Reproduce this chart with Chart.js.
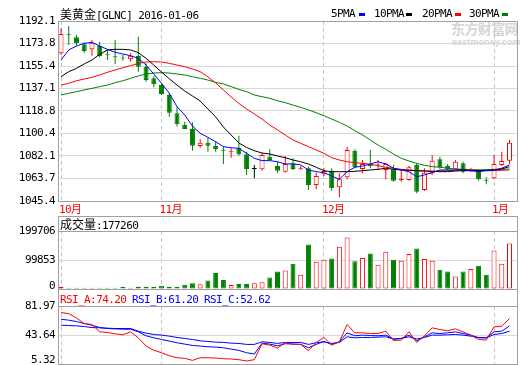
<!DOCTYPE html>
<html>
<head>
<meta charset="utf-8">
<script src="https://cdn.jsdelivr.net/npm/chart.js@4.4.0/dist/chart.umd.min.js"></script>
<style>
body { margin: 0; background: #fff; }
#wrap { position: relative; width: 520px; height: 365px; overflow: hidden; background: #fff;
  font-family: "DejaVu Sans Mono", "Noto Sans CJK SC", monospace; font-size: 11px; letter-spacing: -0.6px; }
canvas { position: absolute; left: 0; }
.frame { position: absolute; box-sizing: border-box; border: 1px solid #a0a0a0; pointer-events: none; }
.hline { position: absolute; height: 1px; background: #a0a0a0; }
.txt { position: absolute; white-space: nowrap; line-height: 12px; color: #000; }
.cjk { font-family: "Noto Sans CJK SC"; font-size: 12px; letter-spacing: 0; }
.key { position: absolute; width: 6px; height: 3px; top: 13px; }
.wm { position: absolute; color: #d6d6d6; font-weight: bold; white-space: nowrap; letter-spacing: 0; }
</style>
</head>
<body>
<div id="wrap">
  <div class="wm" style="left:451px;top:20px;font-family:'Noto Sans CJK SC';font-size:14px;line-height:16px;letter-spacing:-0.6px">东方财富网</div>
  <div class="wm" style="left:452px;top:37px;font-family:'Liberation Sans';font-size:9px;line-height:10px;letter-spacing:0.1px">eastmoney.com</div>

  <canvas id="priceChart" width="520" height="216" style="top:0"></canvas>
  <canvas id="volChart" width="520" height="80" style="top:216px"></canvas>
  <canvas id="rsiChart" width="520" height="76" style="top:289px"></canvas>

  <div class="frame" style="left:58px;top:21px;width:460px;height:181px"></div>
  <div class="frame" style="left:58px;top:216px;width:460px;height:74px"></div>
  <div class="hline" style="left:58px;top:231px;width:460px"></div>
  <div class="frame" style="left:58px;top:289px;width:460px;height:76px"></div>
  <div class="hline" style="left:58px;top:306px;width:460px"></div>

  <div class="txt" style="left:60px;top:8px"><span class="cjk">美黄金</span>[GLNC] 2016-01-06</div>
  <div class="txt" style="left:331px;top:8px">5PMA</div>
  <div class="key" style="left:359px;background:#0000ff"></div>
  <div class="txt" style="left:374px;top:8px">10PMA</div>
  <div class="key" style="left:406px;background:#000000"></div>
  <div class="txt" style="left:422px;top:8px">20PMA</div>
  <div class="key" style="left:455px;background:#ff0000"></div>
  <div class="txt" style="left:469px;top:8px">30PMA</div>
  <div class="key" style="left:502px;background:#008000"></div>

  <div class="txt" style="left:60px;top:218px"><span class="cjk">成交量</span>:177260</div>
  <div class="txt" style="left:60px;top:294px;color:#ff0000">RSI_A:74.20</div>
  <div class="txt" style="left:132px;top:294px;color:#0000ff">RSI_B:61.20</div>
  <div class="txt" style="left:204px;top:294px;color:#0000ff">RSI_C:52.62</div>
</div>

<script>
// 月份刻度 (index of first candle shown in each month)
const months = ["10月", "11月", "12月", "1月"];
const monthIdx = [0, 13, 34, 56];

// K线: 2015-10-14 .. 2016-01-06
const open = [
  1165.8, 1181.3, 1178.8, 1173.1, 1169.0, 1171.7, 1165.0, 1163.0, 1162.0, 1160.9,
  1163.6, 1154.9, 1145.4, 1139.9, 1131.8, 1116.9, 1107.3, 1104.1, 1090.2, 1092.9,
  1090.2, 1087.0, 1085.1, 1088.9, 1083.5, 1071.5, 1071.2, 1081.5, 1073.9, 1069.3,
  1076.1, 1071.7, 1072.1, 1058.4, 1067.2, 1070.1, 1056.6, 1064.7, 1086.4, 1071.5,
  1074.8, 1074.4, 1070.7, 1071.2, 1062.5, 1062.5, 1074.8, 1054.4, 1068.0, 1079.4,
  1073.9, 1071.2, 1076.1, 1070.1, 1069.9, 1062.5, 1063.9, 1074.8, 1078.2,
];
const high = [
  1186.1, 1188.0, 1180.7, 1174.7, 1176.6, 1175.2, 1168.5, 1176.6, 1164.4, 1165.8,
  1179.3, 1157.6, 1147.3, 1141.3, 1133.4, 1122.3, 1110.0, 1109.5, 1095.7, 1097.0,
  1093.8, 1089.6, 1088.3, 1098.6, 1085.6, 1074.8, 1084.3, 1087.5, 1077.4, 1082.1,
  1080.2, 1073.9, 1073.4, 1068.5, 1072.1, 1072.1, 1068.0, 1089.6, 1087.5, 1078.8,
  1087.0, 1078.8, 1076.6, 1074.8, 1071.2, 1073.9, 1076.1, 1072.1, 1082.9, 1081.5,
  1075.6, 1078.8, 1077.4, 1072.5, 1071.2, 1064.7, 1082.9, 1085.6, 1095.1,
];
const low = [
  1164.4, 1172.5, 1172.0, 1166.3, 1163.8, 1162.5, 1160.3, 1157.0, 1159.7, 1158.9,
  1150.8, 1142.6, 1138.1, 1131.8, 1114.1, 1106.2, 1103.8, 1086.4, 1088.9, 1085.6,
  1085.6, 1075.6, 1080.7, 1082.3, 1066.6, 1063.9, 1070.1, 1078.2, 1068.5, 1068.5,
  1070.7, 1070.7, 1054.4, 1054.9, 1065.8, 1053.8, 1048.4, 1063.1, 1072.1, 1068.0,
  1072.1, 1070.7, 1063.1, 1061.1, 1061.1, 1061.9, 1051.7, 1053.5, 1066.6, 1071.7,
  1070.1, 1070.7, 1068.0, 1069.3, 1061.9, 1059.0, 1063.1, 1073.9, 1075.6,
];
const close = [
  1181.5, 1180.4, 1173.9, 1167.6, 1174.4, 1163.6, 1164.1, 1162.5, 1161.6, 1163.8,
  1154.9, 1144.0, 1140.8, 1132.6, 1117.4, 1107.9, 1104.1, 1090.5, 1092.9, 1090.5,
  1087.5, 1086.4, 1085.6, 1083.5, 1071.5, 1071.5, 1082.9, 1078.8, 1070.1, 1075.6,
  1071.5, 1072.5, 1058.4, 1065.8, 1069.9, 1055.7, 1063.1, 1087.0, 1072.9, 1075.6,
  1073.9, 1074.8, 1075.6, 1061.9, 1063.1, 1072.9, 1053.0, 1068.5, 1078.2, 1072.9,
  1071.2, 1077.4, 1069.3, 1070.7, 1063.1, 1061.9, 1075.6, 1078.0, 1092.9,
];

// 均线
const ma5 = [
  1160.3, 1168.5, 1171.7, 1173.9, 1174.7, 1171.7, 1169.0, 1166.6, 1165.2, 1163.8,
  1161.7, 1156.2, 1148.9, 1141.3, 1133.2, 1122.3, 1115.5, 1106.5, 1100.6, 1097.3,
  1093.7, 1089.7, 1088.8, 1088.3, 1084.3, 1080.2, 1078.3, 1078.3, 1077.4, 1075.6,
  1075.6, 1074.8, 1070.7, 1069.3, 1068.5, 1065.8, 1063.1, 1069.3, 1072.9, 1073.9,
  1075.6, 1077.4, 1075.6, 1072.1, 1070.7, 1069.3, 1065.2, 1066.6, 1068.5, 1070.7,
  1070.7, 1070.7, 1071.2, 1070.1, 1069.3, 1070.1, 1070.7, 1072.1, 1074.8,
];
const ma10 = [
  1146.7, 1150.8, 1153.5, 1157.1, 1160.3, 1165.0, 1168.5, 1169.0, 1169.0, 1168.5,
  1166.3, 1161.7, 1156.2, 1150.5, 1145.0, 1139.9, 1135.0, 1131.0, 1126.9, 1120.4,
  1113.9, 1105.7, 1099.2, 1092.7, 1089.0, 1086.4, 1084.5, 1083.7, 1082.1, 1080.7,
  1078.8, 1077.4, 1075.6, 1072.9, 1070.1, 1069.3, 1069.3, 1069.3, 1069.6, 1070.1,
  1070.7, 1071.2, 1072.1, 1071.2, 1070.7, 1070.4, 1070.1, 1069.8, 1069.6, 1069.3,
  1069.3, 1069.8, 1070.1, 1070.1, 1070.1, 1070.4, 1070.7, 1071.5, 1073.4,
];
const ma20 = [
  1139.9, 1141.3, 1143.4, 1144.8, 1146.2, 1148.1, 1150.3, 1152.2, 1154.0, 1155.7,
  1157.6, 1158.7, 1158.9, 1158.7, 1157.6, 1156.2, 1154.9, 1153.0, 1150.8, 1146.5,
  1141.6, 1135.9, 1130.2, 1124.9, 1120.4, 1116.3, 1112.2, 1107.3, 1103.3, 1099.2,
  1095.1, 1092.4, 1089.7, 1087.0, 1084.3, 1080.7, 1078.8, 1077.4, 1076.6, 1076.1,
  1075.3, 1074.2, 1072.9, 1072.1, 1071.2, 1070.7, 1070.1, 1069.9, 1069.6, 1069.9,
  1070.1, 1070.4, 1070.7, 1070.7, 1070.4, 1070.1, 1070.1, 1070.4, 1070.7,
];
const ma30 = [
  1131.8, 1133.2, 1134.5, 1135.9, 1137.2, 1138.6, 1139.9, 1141.8, 1143.4, 1145.4,
  1147.3, 1148.9, 1149.7, 1150.0, 1149.7, 1148.9, 1148.1, 1146.7, 1145.4, 1144.0,
  1142.1, 1140.8, 1138.6, 1136.4, 1134.5, 1131.8, 1130.4, 1129.1, 1127.1, 1125.5,
  1123.6, 1121.7, 1119.6, 1117.4, 1114.9, 1112.2, 1109.5, 1106.5, 1102.7, 1099.2,
  1095.1, 1091.0, 1087.5, 1083.7, 1080.2, 1078.0, 1076.1, 1074.5, 1073.4, 1072.9,
  1072.1, 1071.5, 1071.2, 1071.0, 1070.7, 1071.0, 1071.2, 1071.2, 1071.5,
];

// 成交量
const volume = [
  8000, 4500, 4500, 4500, 4500, 4500, 4500, 4500, 8000, 4500,
  8000, 8000, 8000, 11500, 8000, 8000, 15000, 19700, 16400, 29000,
  54700, 31400, 14000, 17400, 17400, 19700, 23300, 39400, 60400, 63900,
  87100, 48800, 153300, 94100, 101100, 104600, 145300, 177260, 95200, 107000,
  122000, 83600, 127900, 101100, 97600, 120900, 139400, 103500, 97600, 66200,
  60400, 42900, 60400, 68700, 80200, 48800, 132400, 87100, 156800,
];

// RSI
const rsiA = [
  73.3, 71.9, 66.2, 58.8, 57.5, 47.8, 47.0, 45.2, 43.9, 47.8,
  39.9, 29.0, 23.5, 20.2, 16.3, 13.6, 12.8, 10.1, 13.6, 13.6,
  13.2, 12.3, 11.9, 11.0, 9.3, 11.0, 32.1, 30.3, 26.4, 33.4,
  31.6, 31.2, 22.8, 33.8, 40.4, 30.3, 34.7, 57.5, 46.5, 46.5,
  45.6, 45.6, 48.7, 36.4, 36.9, 47.8, 33.8, 42.6, 53.1, 50.9,
  49.2, 51.8, 47.8, 43.5, 37.7, 36.9, 54.4, 55.3, 65.4,
];
const rsiB = [
  64.5, 63.2, 61.4, 58.8, 56.6, 53.5, 52.2, 51.8, 51.3, 51.3,
  47.8, 42.6, 39.9, 37.7, 35.6, 33.4, 31.6, 29.9, 29.0, 28.1,
  27.7, 26.8, 25.0, 23.3, 20.2, 18.5, 32.9, 31.6, 29.4, 32.1,
  31.6, 31.2, 26.8, 31.2, 35.1, 31.2, 34.7, 46.5, 42.6, 43.5,
  43.0, 42.6, 43.5, 38.2, 39.1, 43.5, 36.0, 41.3, 46.5, 45.6,
  46.5, 47.8, 45.6, 43.5, 39.9, 39.9, 47.8, 48.7, 55.7,
];
const rsiC = [
  56.6, 56.2, 55.7, 54.8, 53.5, 53.1, 52.7, 52.2, 52.2, 52.2,
  48.7, 46.1, 44.3, 43.5, 42.1, 40.4, 39.1, 37.7, 36.0, 35.1,
  34.2, 33.8, 32.9, 32.5, 31.2, 31.2, 34.7, 33.8, 32.5, 33.8,
  33.8, 33.8, 31.2, 33.4, 34.7, 32.5, 33.8, 41.3, 39.9, 40.4,
  40.4, 40.8, 41.3, 38.2, 39.1, 41.3, 38.2, 40.4, 43.5, 43.5,
  43.9, 44.3, 43.5, 42.1, 40.4, 39.9, 44.3, 45.6, 48.7,
];

// 刻度
const priceTicks = [1045.4, 1063.7, 1082.1, 1100.4, 1118.8, 1137.1, 1155.4, 1173.8, 1192.1];
const volTicks = [0, 49927, 99853, 149780, 199706];
const rsiTicks = [5.32, 43.64, 81.97];

const RED = "#ff0000", GREEN = "#008000", BLUE = "#0000ff", BLACK = "#000000";
const GRID = "#d8d8d8", DASH = "#c4c4c4";
const FONT = { family: '"DejaVu Sans Mono", "Noto Sans CJK SC"', size: 11 };

Chart.defaults.animation = false;
Chart.defaults.responsive = false;
Chart.defaults.font.family = FONT.family;
Chart.defaults.font.size = FONT.size;
Chart.defaults.plugins.legend.display = false;
Chart.defaults.plugins.tooltip.enabled = false;

// 涨红跌绿, 平盘黑
const dir = close.map((c, i) => (c > open[i] ? 1 : c < open[i] ? -1 : 0));
const candleColor = dir.map((d) => (d > 0 ? RED : d < 0 ? GREEN : BLACK));
const bodyFill = dir.map((d) => (d < 0 ? GREEN : "#ffffff"));
const volColor = dir.map((d) => (d < 0 ? GREEN : RED));
const volFill = dir.map((d) => (d < 0 ? GREEN : "#ffffff"));

const xy = (arr) => arr.map((v, i) => ({ x: i, y: v }));

// tighter text, like the original bitmap font
const tightText = {
  id: "tightText",
  beforeDraw(chart) {
    chart.ctx.letterSpacing = "-0.6px";
  },
};

function xAxis(showLabels) {
  return {
    type: "linear",
    min: -0.39,
    max: 58.97,
    offset: false,
    afterBuildTicks: (s) => {
      s.ticks = monthIdx.map((v) => ({ value: v }));
    },
    afterFit: (s) => {
      s.height = showLabels ? 15 : 0;
      s.paddingLeft = 0;
      s.paddingRight = 0;
    },
    grid: { color: DASH, drawTicks: false, offset: false },
    border: { display: false, dash: [4, 3] },
    ticks: {
      display: showLabels,
      autoSkip: false,
      maxRotation: 0,
      align: "start",
      labelOffset: -2,
      padding: 3,
      color: RED,
      callback: (v) => months[monthIdx.indexOf(v)],
    },
  };
}

// bottom label is lifted a little so it stays inside the panel
function yAxis(min, max, tickList, digits, lift) {
  return {
    position: "left",
    min: min,
    max: max,
    afterBuildTicks: (s) => {
      s.ticks = tickList.map((v) => ({ value: v }));
    },
    afterFit: (s) => {
      s.width = 58;
      s.paddingTop = 0;
      s.paddingBottom = 0;
    },
    grid: { color: GRID, drawTicks: false },
    border: { display: false },
    ticks: {
      color: BLACK,
      padding: 3,
      font: (ctx) =>
        ctx.index === 0 && lift
          ? { family: FONT.family, size: FONT.size, lineHeight: lift * 2 + "px" }
          : { family: FONT.family, size: FONT.size },
      callback: (v, i) => {
        const s = v.toFixed(digits);
        return i === 0 && lift ? [s, ""] : s;
      },
    },
  };
}

new Chart(document.getElementById("priceChart"), {
  type: "bar",
  data: {
    datasets: [
      { type: "line", label: "5PMA", data: xy(ma5), borderColor: BLUE, borderWidth: 1, pointRadius: 0, order: 0 },
      { type: "line", label: "10PMA", data: xy(ma10), borderColor: BLACK, borderWidth: 1, pointRadius: 0, order: 0 },
      { type: "line", label: "20PMA", data: xy(ma20), borderColor: RED, borderWidth: 1, pointRadius: 0, order: 0 },
      { type: "line", label: "30PMA", data: xy(ma30), borderColor: GREEN, borderWidth: 1, pointRadius: 0, order: 0 },
      {
        label: "body",
        data: open.map((o, i) => ({ x: i, y: [o, close[i]] })),
        backgroundColor: bodyFill,
        borderColor: candleColor,
        borderWidth: 1,
        borderSkipped: false,
        barThickness: 5,
        minBarLength: 1,
        grouped: false,
        inflateAmount: 0,
        order: 1,
      },
      {
        label: "wick",
        data: low.map((l, i) => ({ x: i, y: [l, high[i]] })),
        backgroundColor: candleColor,
        borderWidth: 0,
        barThickness: 1,
        grouped: false,
        inflateAmount: 0,
        order: 2,
      },
    ],
  },
  options: {
    layout: { padding: { left: 0, right: 3, top: 21, bottom: 0 } },
    scales: {
      x: xAxis(true),
      y: yAxis(1045.4, 1192.1, priceTicks, 1, 0),
    },
  },
  plugins: [tightText],
});

new Chart(document.getElementById("volChart"), {
  type: "bar",
  data: {
    datasets: [
      {
        label: "成交量",
        data: xy(volume),
        backgroundColor: volFill,
        borderColor: volColor,
        borderWidth: 1,
        borderSkipped: false,
        barThickness: 5,
        grouped: false,
        inflateAmount: 0,
      },
    ],
  },
  options: {
    layout: { padding: { left: 0, right: 3, top: 15, bottom: 7 } },
    scales: {
      x: xAxis(false),
      y: yAxis(0, 199706, volTicks, 0, 3),
    },
  },
  plugins: [tightText],
});

new Chart(document.getElementById("rsiChart"), {
  type: "line",
  data: {
    datasets: [
      { label: "RSI_A", data: xy(rsiA), borderColor: RED, borderWidth: 1, pointRadius: 0 },
      { label: "RSI_B", data: xy(rsiB), borderColor: BLUE, borderWidth: 1, pointRadius: 0 },
      { label: "RSI_C", data: xy(rsiC), borderColor: BLUE, borderWidth: 1, pointRadius: 0 },
    ],
  },
  options: {
    layout: { padding: { left: 0, right: 3, top: 17, bottom: 1 } },
    scales: {
      x: xAxis(false),
      y: yAxis(5.32, 81.97, rsiTicks, 2, 4),
    },
  },
  plugins: [tightText],
});
</script>
</body>
</html>
